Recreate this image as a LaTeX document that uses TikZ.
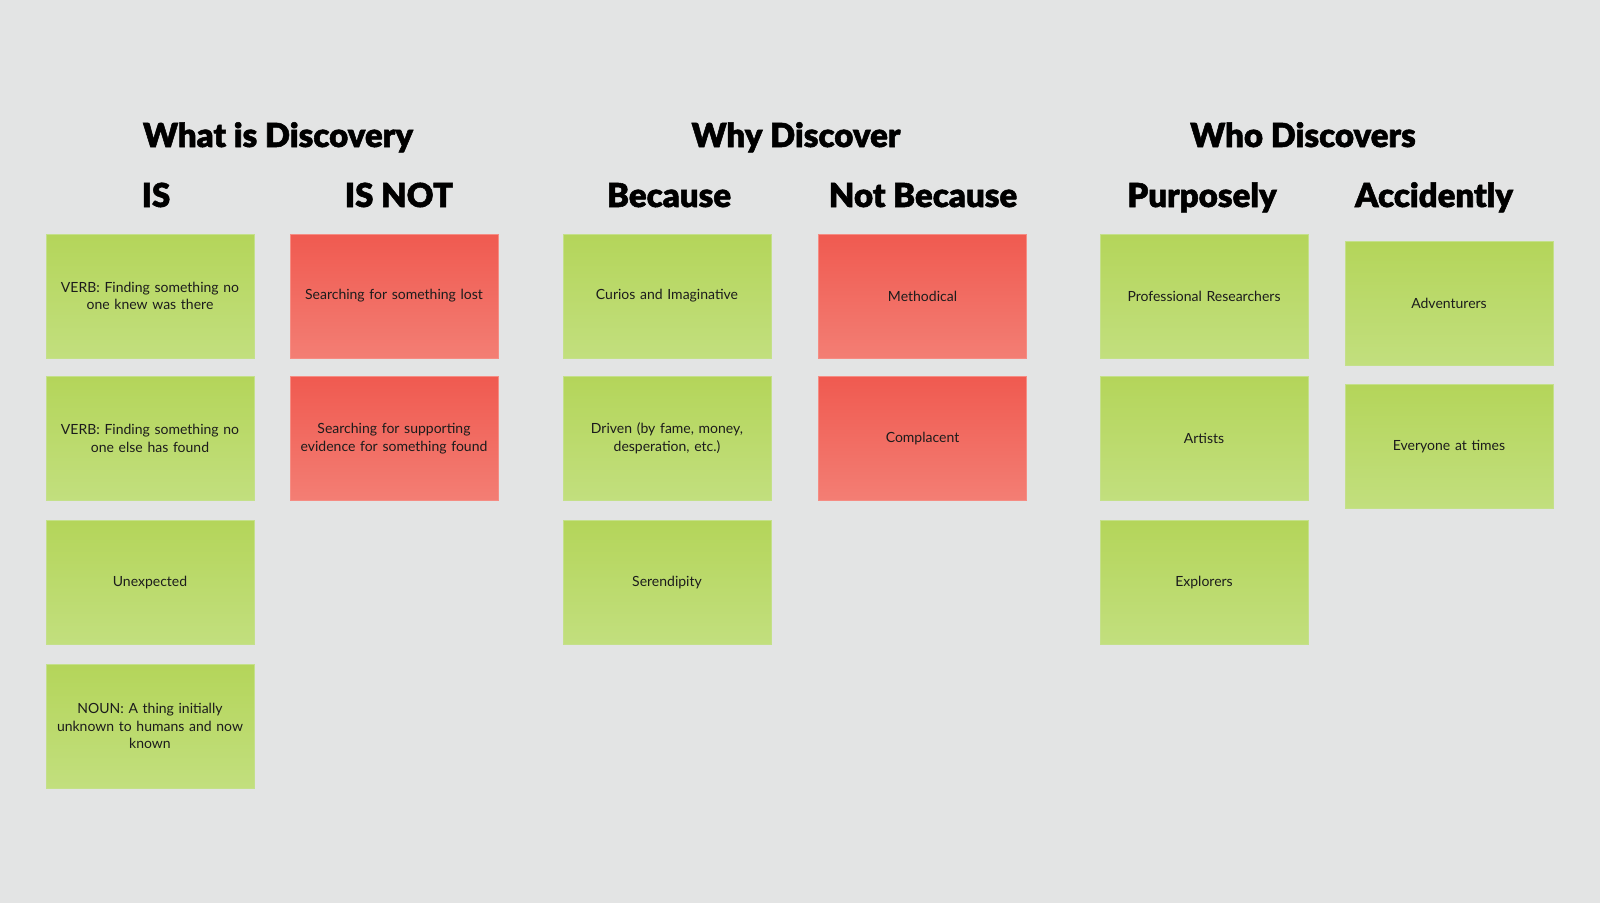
\documentclass[tikz,border=0pt]{standalone}
\usepackage{fontspec}
\setmainfont{Lato}
\newfontfamily\headfont[FakeBold=1.6]{Lato Black}
\definecolor{board}{HTML}{E3E4E4}
\definecolor{greentop}{HTML}{B4D55A}
\definecolor{greenbot}{HTML}{C2DF7E}
\definecolor{greenedge}{HTML}{C4E08A}
\definecolor{redtop}{HTML}{F05A50}
\definecolor{redbot}{HTML}{F37E74}
\definecolor{rededge}{HTML}{F58C83}
\definecolor{ink}{HTML}{1C1C1C}
\tikzset{
  note/.style={minimum width=208pt, minimum height=124pt, inner sep=0pt,
    text width=204pt, align=center, text=ink,
    font=\fontsize{14}{17.5}\selectfont, line width=0.8pt},
  greennote/.style={note, draw=greenedge, top color=greentop,
    middle color=greentop!94!greenbot, bottom color=greenbot},
  rednote/.style={note, draw=rededge, top color=redtop,
    middle color=redtop!94!redbot, bottom color=redbot},
  heading/.style={anchor=base, inner sep=0pt, font=\headfont\fontsize{33}{36}\selectfont, text=black}
}
\begin{document}
\begin{tikzpicture}[x=1pt,y=-1pt]
  % board
  \fill[board] (0,0) rectangle (1600,903);
  \useasboundingbox (0,0) rectangle (1600,903);

  % section titles
  \node[heading] (t1) at (278,147) {What is Discovery};
  \node[heading] (t2) at (796,147) {Why Discover};
  \node[heading] (t3) at (1303,147) {Who Discovers};

  % column titles
  \node[heading] (h1) at (156,207) {IS};
  \node[heading] (h2) at (399,207) {IS NOT};
  \node[heading] (h3) at (669,207) {Because};
  \node[heading] (h4) at (923,207) {Not Because};
  \node[heading] (h5) at (1202,207) {Purposely};
  \node[heading] (h6) at (1434,207) {Accidently};

  % IS
  \node[greennote] (is1) at (150,296) {VERB: Finding something no\\one knew was there};
  \node[greennote] (is2) at (150,438.5) {VERB: Finding something no\\one else has found};
  \node[greennote] (is3) at (150,582.5) {Unexpected};
  \node[greennote] (is4) at (150,726) {NOUN: A thing initially\\unknown to humans and now\\known};

  % IS NOT
  \node[rednote] (not1) at (394,296) {Searching for something lost};
  \node[rednote] (not2) at (394,438.5) {Searching for supporting\\evidence for something found};

  % Because
  \node[greennote] (bc1) at (667,296) {Curios and Imaginative};
  \node[greennote] (bc2) at (667,438.5) {Driven (by fame, money,\\desperation, etc.)};
  \node[greennote] (bc3) at (667,582.5) {Serendipity};

  % Not Because
  \node[rednote] (nb1) at (922.5,296) {Methodical};
  \node[rednote] (nb2) at (922.5,438.5) {Complacent};

  % Purposely
  \node[greennote] (pu1) at (1204,296) {Professional Researchers};
  \node[greennote] (pu2) at (1204,438.5) {Artists};
  \node[greennote] (pu3) at (1204,582.5) {Explorers};

  % Accidently
  \node[greennote] (ac1) at (1449,303.5) {Adventurers};
  \node[greennote] (ac2) at (1449,446.5) {Everyone at times};
\end{tikzpicture}
\end{document}
